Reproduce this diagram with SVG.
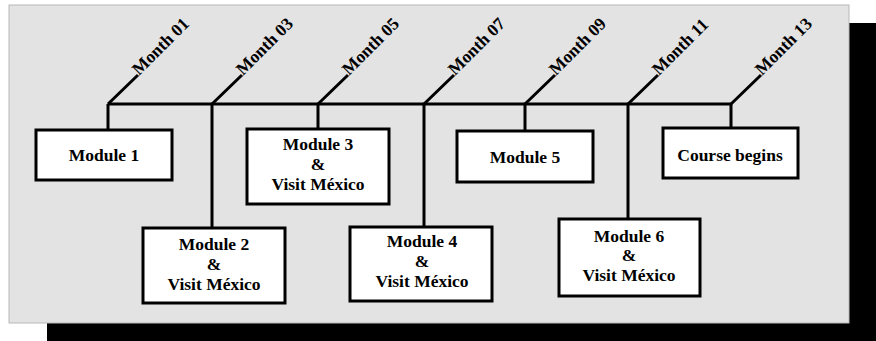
<svg xmlns="http://www.w3.org/2000/svg" width="876" height="341" viewBox="0 0 876 341">
<style>
.box{fill:#fff;stroke:#000;stroke-width:3}
.ln{fill:none;stroke:#000;stroke-width:3}
.t{font-family:"Liberation Serif","Times New Roman",serif;font-weight:bold;font-size:17.5px;fill:#000;text-anchor:middle}
.m{font-family:"Liberation Serif","Times New Roman",serif;font-weight:bold;font-size:17.5px;fill:#000}
</style>
<rect x="0" y="0" width="876" height="341" fill="#fff"/>
<rect id="shadow" x="47" y="23" width="829" height="318" fill="#000"/>
<rect id="panel" x="9" y="5" width="840" height="318" fill="#e3e3e3" stroke="#b8b8b8" stroke-width="1"/>
<g id="connectors">
<path class="ln" d="M108,104 H731"/>
<path class="ln" d="M108,104 L138,75 M212,104 L242,75 M318,104 L348,75 M424,104 L454,75 M525,104 L555,75 M628,104 L658,75 M731,104 L761,75"/>
<path class="ln" d="M108,104 V130 M212,104 V228 M318,104 V129 M424,104 V227 M525,104 V131 M628,104 V219 M731,104 V128"/>
</g>
<g id="months">
<text class="m" transform="translate(139,76) rotate(-45)">Month 01</text>
<text class="m" transform="translate(243,76) rotate(-45)">Month 03</text>
<text class="m" transform="translate(349,76) rotate(-45)">Month 05</text>
<text class="m" transform="translate(455,76) rotate(-45)">Month 07</text>
<text class="m" transform="translate(556,76) rotate(-45)">Month 09</text>
<text class="m" transform="translate(659,76) rotate(-45)">Month 11</text>
<text class="m" transform="translate(762,76) rotate(-45)">Month 13</text>
</g>
<g id="module1">
<rect class="box" x="36" y="130" width="136" height="50"/>
<text class="t" x="104" y="161">Module 1</text>
</g>
<g id="module2">
<rect class="box" x="143" y="228" width="142" height="75"/>
<text class="t" x="214" y="250">Module 2</text>
<text class="t" x="214" y="270">&amp;</text>
<text class="t" x="214" y="290">Visit México</text>
</g>
<g id="module3">
<rect class="box" x="247" y="129" width="142" height="75"/>
<text class="t" x="318" y="150">Module 3</text>
<text class="t" x="318" y="170">&amp;</text>
<text class="t" x="318" y="190">Visit México</text>
</g>
<g id="module4">
<rect class="box" x="350" y="227" width="142" height="74"/>
<text class="t" x="422" y="247">Module 4</text>
<text class="t" x="422" y="267">&amp;</text>
<text class="t" x="422" y="287">Visit México</text>
</g>
<g id="module5">
<rect class="box" x="457" y="131" width="136" height="51"/>
<text class="t" x="525" y="163">Module 5</text>
</g>
<g id="module6">
<rect class="box" x="559" y="219" width="141" height="77"/>
<text class="t" x="629" y="242">Module 6</text>
<text class="t" x="629" y="261">&amp;</text>
<text class="t" x="629" y="281">Visit México</text>
</g>
<g id="course">
<rect class="box" x="663" y="128" width="135" height="50"/>
<text class="t" x="730" y="161">Course begins</text>
</g>
</svg>
